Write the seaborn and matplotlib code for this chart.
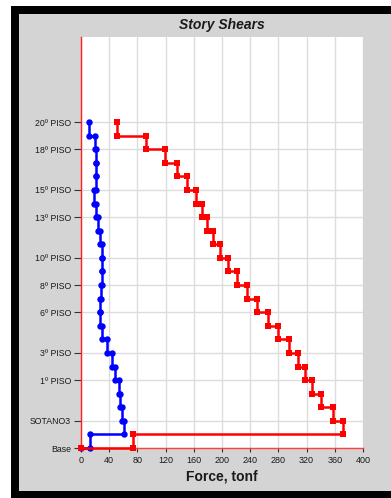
import numpy as np
import pandas as pd
import matplotlib
matplotlib.use("Agg")
import matplotlib.pyplot as plt
import seaborn as sns
from matplotlib.patches import Rectangle

# =============================================================================
# DATA — story shears (tonf), story 1 (bottom) to 24 (top)
# =============================================================================

STORY_NAMES = ["Base", "SOTANO4", "SOTANO3", "SOTANO2", "SOTANO1"] + \
    [f"{i}º PISO" for i in range(1, 21)]

# only these labels are shown on the axis
SHOWN_LABELS = ["Base", "SOTANO3", "1º PISO", "3º PISO", "6º PISO", "8º PISO",
                "10º PISO", "13º PISO", "15º PISO", "18º PISO", "20º PISO"]

SHEAR_BLUE = [12.8, 61.0, 58.2, 56.0, 53.9, 48.2, 44.0, 36.9, 29.8, 27.0, 27.0, 27.7,
              29.1, 29.8, 29.1, 27.0, 24.1, 21.3, 19.1, 20.6, 21.3, 20.6, 19.9, 11.3]
SHEAR_RED = [73.8, 371.6, 357.4, 340.4, 327.7, 317.7, 307.8, 295.0, 279.4, 265.2, 249.6, 235.5,
             221.3, 208.5, 197.2, 187.2, 178.7, 171.6, 163.1, 150.4, 136.2, 119.1, 92.2, 51.1]

X_TICKS = list(range(0, 401, 40))

W, H = 391, 498


def step_path(shears):
    """Build the story-shear staircase: vertical per story, horizontal at each level."""
    xs, ys = [0.0], [0]
    for k, v in enumerate(shears):
        xs += [v, v]
        ys += [k, k + 1]
    return pd.DataFrame({"force": xs, "level": ys, "order": range(len(xs))})


sns.set_theme(style="white")
plt.rcParams["font.family"] = ["Liberation Sans", "DejaVu Sans"]

fig = plt.figure(figsize=(W / 100, H / 100), dpi=100, facecolor="white")

# frame: black border + grey panel (behind the axes)
fig.patches.append(Rectangle((11 / W, 0), 1, 1 - 6 / H, transform=fig.transFigure,
                             facecolor="black", edgecolor="none", zorder=-10))
fig.patches.append(Rectangle((19 / W, 7 / H), 1, 1 - 14 / H - 7 / H, transform=fig.transFigure,
                             facecolor="#d4d4d4", edgecolor="none", zorder=-9))

ax = fig.add_axes([81 / W, (H - 448) / H, (363 - 81) / W, (448 - 37) / H])
ax.set_facecolor("white")

df_blue = step_path(SHEAR_BLUE)
df_red = step_path(SHEAR_RED)

sns.lineplot(data=df_blue, x="force", y="level", sort=False, estimator=None,
             color="#0000ff", lw=1.8, marker="o", markersize=4.6, markeredgewidth=0, ax=ax)
sns.lineplot(data=df_red, x="force", y="level", sort=False, estimator=None,
             color="#ff0000", lw=1.8, marker="s", markersize=4.2, markeredgewidth=0, ax=ax)
for ln in ax.lines:
    ln.set_clip_on(False)
    ln.set_zorder(5)

ax.set_xlim(0, 400)
ax.set_ylim(0, 30.26)
ax.set_xticks(X_TICKS)
ax.set_xticklabels([str(t) for t in X_TICKS], fontsize=6.5, color="#1a1a1a")
ytick_pos = [STORY_NAMES.index(s) for s in SHOWN_LABELS]
ax.set_yticks(ytick_pos)
ax.set_yticklabels(SHOWN_LABELS, fontsize=6.3, color="#1a1a1a")

ax.grid(True, color="#dcdcdc", lw=1)
ax.set_axisbelow(True)
for side in ["top", "right"]:
    ax.spines[side].set_visible(False)
ax.spines["left"].set_color("#ff2020")
ax.spines["bottom"].set_color("#ff4040")
ax.spines["left"].set_linewidth(1)
ax.spines["bottom"].set_linewidth(1)
ax.tick_params(axis="y", length=5, width=0.8, color="#333333", pad=2, left=True)
ax.tick_params(axis="x", length=3, width=0.8, color="#333333", pad=3, bottom=True)

ax.set_xlabel("Force, tonf", fontsize=10, fontweight="bold", color="#1a1a1a", labelpad=3)
ax.set_ylabel("")
ax.set_title("Story Shears", fontsize=10, fontweight="bold", style="italic",
             color="#1a1a1a", pad=6)

fig.savefig("out.png", dpi=100, facecolor=fig.get_facecolor())
